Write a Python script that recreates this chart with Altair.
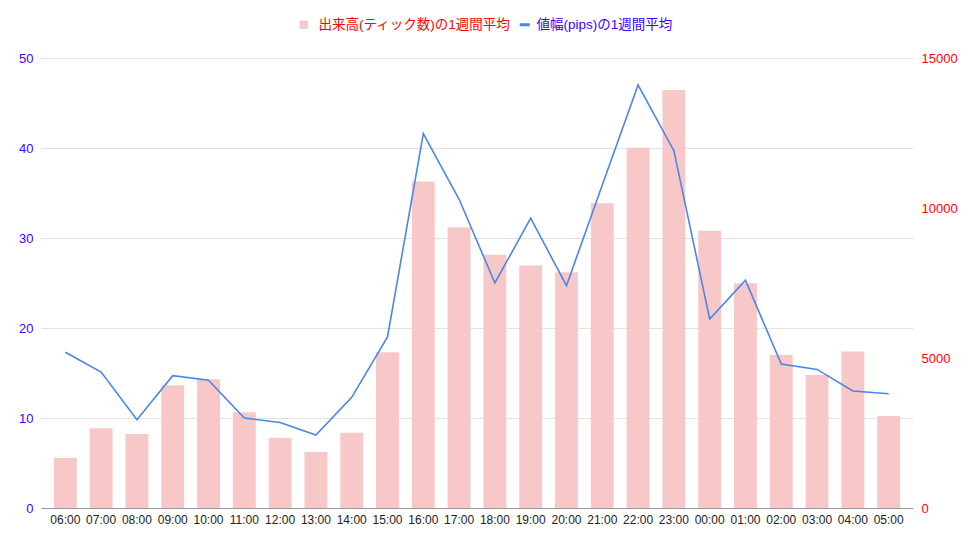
import altair as alt
import pandas as pd

hours = ["06:00", "07:00", "08:00", "09:00", "10:00", "11:00", "12:00", "13:00",
         "14:00", "15:00", "16:00", "17:00", "18:00", "19:00", "20:00", "21:00",
         "22:00", "23:00", "00:00", "01:00", "02:00", "03:00", "04:00", "05:00"]
volume = [1670, 2660, 2470, 4090, 4290, 3190, 2340, 1870,
          2510, 5190, 10880, 9360, 8440, 8080, 7860, 10160,
          12010, 13930, 9240, 7490, 5100, 4430, 5220, 3070]
pips = [17.3, 15.1, 9.8, 14.7, 14.2, 10.0, 9.5, 8.1,
        12.3, 19.0, 41.6, 34.3, 25.0, 32.2, 24.7, 35.9,
        47.0, 39.7, 21.0, 25.3, 16.0, 15.4, 13.0, 12.7]

s_vol = "出来高(ティック数)の1週間平均"
s_pips = "値幅(pips)の1週間平均"

df = pd.DataFrame({"hour": hours, "volume": volume, "pips": pips,
                   "s1": [s_vol] * len(hours), "s2": [s_pips] * len(hours)})

FONT = "Liberation Sans, Arial, Noto Sans CJK JP"
BAR = "#f8c8c9"
LINE = "#4a86e8"
BLUE = "#3d00ff"
RED = "#ff0000"

x = alt.X("hour:N", sort=hours, title=None,
          scale=alt.Scale(paddingInner=0.36, paddingOuter=0.36),
          axis=alt.Axis(labelAngle=0, labelFontSize=12, labelColor="#222222",
                        labelPadding=6, ticks=False, domainColor="#999999",
                        domainWidth=1.2, grid=False))

bars = alt.Chart(df).mark_bar(color=BAR).encode(
    x=x,
    y=alt.Y("volume:Q", title=None,
            scale=alt.Scale(domain=[0, 15000], nice=False),
            axis=alt.Axis(orient="right", values=[0, 5000, 10000, 15000],
                          format="d", grid=False, ticks=False, domain=False,
                          labelColor=RED, labelFontSize=13, labelPadding=8)),
    color=alt.Color("s1:N", scale=alt.Scale(domain=[s_vol], range=[BAR]),
                    legend=alt.Legend(orient="none", legendX=256, legendY=-40,
                                      title=None, symbolType="square",
                                      symbolSize=70, symbolOpacity=1,
                                      labelColor=RED, labelLimit=400,
                                      labelFontSize=13.5, labelOffset=8,
                                      padding=0, symbolStrokeWidth=0)),
)

line = alt.Chart(df).mark_line(strokeWidth=1.6).encode(
    x=x,
    y=alt.Y("pips:Q", title=None,
            scale=alt.Scale(domain=[0, 50], nice=False),
            axis=alt.Axis(orient="left", values=[0, 10, 20, 30, 40, 50],
                          grid=True, gridColor="#e2e2e2", ticks=False,
                          domain=False, labelColor=BLUE, labelFontSize=13,
                          labelPadding=8)),
    stroke=alt.Stroke("s2:N", scale=alt.Scale(domain=[s_pips], range=[LINE]),
                      legend=alt.Legend(orient="none", legendX=477, legendY=-40,
                                        title=None, symbolType="stroke",
                                        symbolSize=100, symbolStrokeWidth=3,
                                        labelColor=BLUE, labelLimit=400,
                                        labelFontSize=13.5, labelOffset=5,
                                        padding=0)),
)

chart = alt.layer(bars, line).resolve_scale(
    y="independent", color="independent", stroke="independent"
).properties(
    width=872, height=450,
    autosize=alt.AutoSizeParams(type="none"),
    padding={"left": 41, "top": 58, "right": 63, "bottom": 33},
    background="white",
).configure(font=FONT).configure_view(stroke=None)

chart.save("out.html", embed_options={"renderer": "svg", "actions": False})
